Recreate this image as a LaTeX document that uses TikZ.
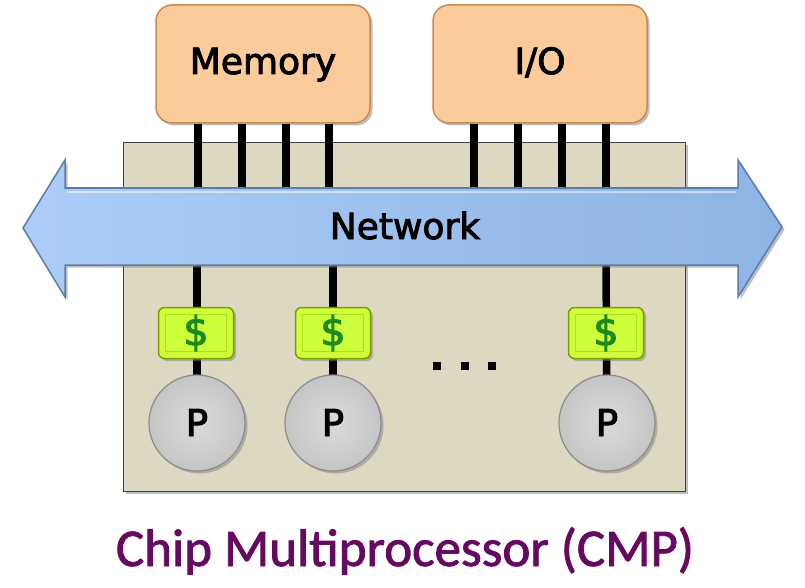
\documentclass[tikz,border=0pt]{standalone}
\usepackage{fontspec}
\setmainfont{DejaVu Sans}
\newfontfamily\lblfont[FakeBold=2.6]{DejaVu Sans}
\newfontfamily\capfont[FakeBold=1.6]{Carlito}
\usetikzlibrary{shadows}
\definecolor{chipbg}{HTML}{DDD8C2}
\definecolor{peach}{HTML}{FCCB9B}
\definecolor{peachdk}{HTML}{C88A52}
\definecolor{netl}{HTML}{ABCDF8}
\definecolor{netr}{HTML}{8EB4E3}
\definecolor{netdk}{HTML}{5A7DAD}
\definecolor{cachef}{HTML}{CCFF3A}
\definecolor{cachedk}{HTML}{7E9C00}
\definecolor{cachein}{HTML}{B2DC20}
\definecolor{dollar}{HTML}{1E8A1E}
\definecolor{procf}{HTML}{D4D4D4}
\definecolor{procdk}{HTML}{8C8C8C}
\definecolor{capcol}{HTML}{650A60}
\tikzset{
  shad/.style={drop shadow={opacity=0.5,shadow xshift=2.5pt,shadow yshift=-2.5pt}},
  membox/.style={shad,draw=peachdk,line width=1.5pt,fill=peach,rounded corners=16pt,
    minimum width=214pt,minimum height=118pt,inner sep=0pt},
  wire/.style={line width=7.5pt,black},
  cachebox/.style={shad,draw=cachedk,line width=1.5pt,fill=cachef,rounded corners=6pt,
    minimum width=75pt,minimum height=51pt,inner sep=0pt},
  proc/.style={shad,circle,draw=procdk,line width=1.2pt,inner color=procf!85!white,outer color=procf!93!black,
    minimum size=96pt,inner sep=0pt},
  dotsq/.style={fill=black,minimum size=8pt,inner sep=0pt},
  lbl/.style={font=\lblfont\fontsize{36}{40}\selectfont,text=black},
}
\begin{document}
\begin{tikzpicture}[x=1pt,y=-1pt]
\useasboundingbox (0,0) rectangle (805,588);
% chip
\node[shad,draw=black!75,line width=1pt,fill=chipbg,minimum width=562pt,minimum height=348pt,inner sep=0pt]
  (chip) at (404,317) {};
% wire positions
\coordinate (m1) at (198,190); \coordinate (m2) at (242,190);
\coordinate (m3) at (286,190); \coordinate (m4) at (329,190);
\coordinate (i1) at (474,190); \coordinate (i2) at (518,190);
\coordinate (i3) at (562,190); \coordinate (i4) at (606,190);
% memory and io
\node[membox] (mem) at (263,64) {};
\node[membox] (io) at (540,64) {};
\foreach \w in {m1,m2,m3,m4}{\draw[wire] (mem.south -| \w) -- (\w);}
\foreach \w in {i1,i2,i3,i4}{\draw[wire] (io.south -| \w) -- (\w);}
% caches and processors (positions)
\coordinate (n1) at (197,262); \coordinate (n2) at (333,262); \coordinate (n3) at (606,262);
\coordinate (q1) at (197,423); \coordinate (q2) at (333,423); \coordinate (q3) at (607,423);
\draw[wire] (n1) -- (q1);
\draw[wire] (n2) -- (q2);
\draw[wire] (n3) -- (q3);
\node[proc] (p1) at (q1) {};
\node[proc] (p2) at (q2) {};
\node[proc] (p3) at (q3) {};
\node[cachebox] (c1) at (196,333) {};
\node[cachebox] (c2) at (333,333) {};
\node[cachebox] (c3) at (606,333) {};
\foreach \c in {c1,c2,c3}{
  \draw[cachein,line width=0.8pt] ([xshift=8pt,yshift=-8pt]\c.north west) rectangle ([xshift=-8pt,yshift=8pt]\c.south east);
  \node[font=\lblfont\fontsize{40}{44}\selectfont,text=dollar] at (\c) {\$};
}
\foreach \p in {p1,p2,p3}{
  \node[font=\lblfont\fontsize{37}{40}\selectfont,anchor=base] at ([yshift=-13pt]\p.center) {P};
}
% network arrow
\path[shad,shade,left color=netl,right color=netr,draw=netdk,line width=1.5pt,line join=miter]
  (23,228) -- (65,160) -- (65,188) -- (738,188) -- (738,160) -- (782,227)
  -- (738,297) -- (738,265) -- (65,265) -- (65,297) -- cycle;
\draw[white,opacity=0.5,line width=1.5pt] (67,192) -- (736,192);
\node[lbl,anchor=base] (net) at (405,239) {Network};
% labels
\node[lbl,anchor=base] (memt) at (263,74) {Memory};
\node[lbl,anchor=base] (iot) at (540,74) {I/O};
% dots
\node[dotsq] (d1) at (437,366) {};
\node[dotsq] (d2) at (465,366) {};
\node[dotsq] (d3) at (492,366) {};
% caption
\node[anchor=base,text=capcol,font=\capfont\fontsize{53}{58}\selectfont] (cap) at (405,566) {Chip Multiprocessor (CMP)};
\end{tikzpicture}
\end{document}
